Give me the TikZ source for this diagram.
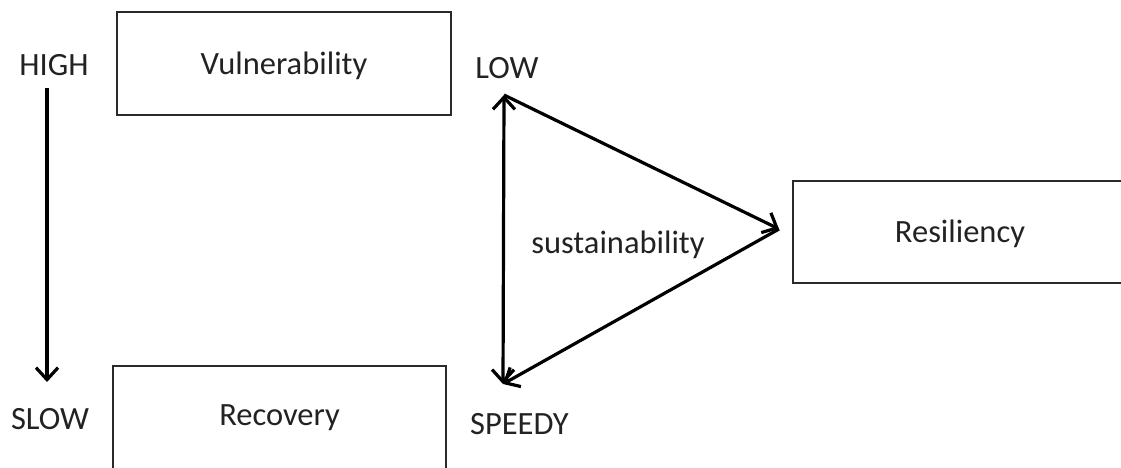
\documentclass[tikz,border=0pt]{standalone}
\usepackage{fontspec}
\setmainfont{Carlito}
\usetikzlibrary{arrows.meta}
\definecolor{txt}{HTML}{222222}
\definecolor{boxline}{HTML}{2A2A2A}
\begin{document}
\begin{tikzpicture}[x=1pt,y=-1pt,
  lbl/.style={inner sep=0pt,text=txt,font=\fontsize{32.5}{38}\selectfont},
  box/.style={draw=boxline,line width=2pt,inner sep=0pt},
  tip/.style={Straight Barb[length=12pt,width=22pt,line width=3.2pt]},
  arr/.style={line width=3.2pt,black,arrows={-{Straight Barb[length=12pt,width=22pt,line width=3.2pt]}}},
  dblarr/.style={line width=3.2pt,black,arrows={{Straight Barb[length=12pt,width=22pt,line width=3.2pt]}-{Straight Barb[length=12pt,width=22pt,line width=3.2pt]}}}]
\useasboundingbox (0,0) rectangle (1121,467);
\clip (0,0) rectangle (1121,467);
% boxes
\node[box,minimum width=334pt,minimum height=103pt] (vul) at (284,63.5) {};
\node[lbl] (vultxt) at (284,65.5) {Vulnerability};
\node[box,minimum width=333pt,minimum height=140pt] (rec) at (279.5,436) {};
\node[lbl] (rectxt) at (279.5,418) {Recovery};
\node[box,minimum width=334pt,minimum height=102pt] (res) at (960,232) {};
\node[lbl] (restxt) at (960,234) {Resiliency};
% labels
\node[lbl] (high) at (54,65) {HIGH};
\node[lbl] (slow) at (50,419) {SLOW};
\node[lbl] (low) at (507,68) {LOW};
\node[lbl] (speedy) at (519.5,424) {SPEEDY};
\node[lbl] (sus) at (618,245) {sustainability};
% arrow HIGH -> SLOW
\coordinate (hs) at (47,88);
\coordinate (he) at (47,382);
\draw[arr] (hs) -- (he);
% triangle
\coordinate (T) at (504,95);
\coordinate (B) at (503,384);
\coordinate (R) at (779,229);
\draw[dblarr] (T) -- (B);
\draw[arr] (T) -- (R);
\draw[arr] (R) -- (B);
\end{tikzpicture}
\end{document}
